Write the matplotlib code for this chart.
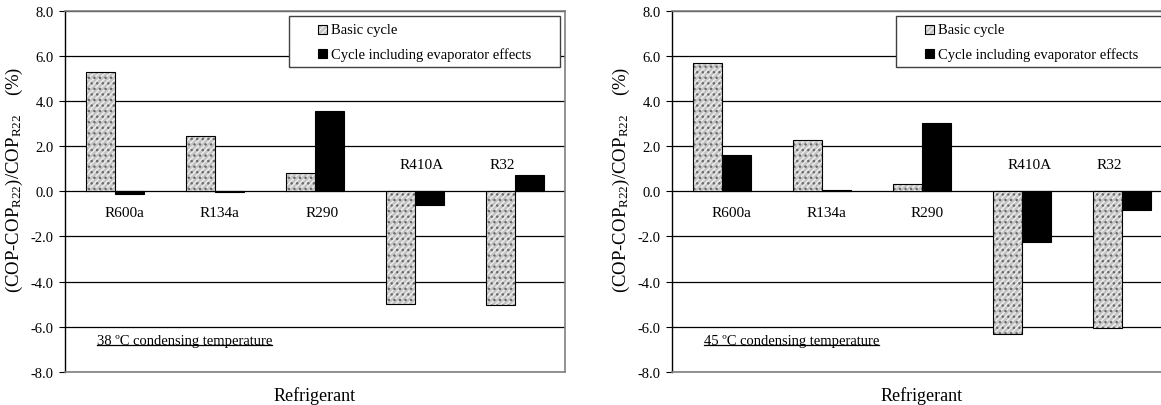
import matplotlib
matplotlib.use("Agg")
import matplotlib.pyplot as plt
from matplotlib.patches import Rectangle
from matplotlib.lines import Line2D
import numpy as np

## data
refrigerants = ["R600a", "R134a", "R290", "R410A", "R32"]
basic_38 = [5.27, 2.43, 0.80, -5.00, -5.05]
evap_38 = [-0.10, -0.05, 3.54, -0.63, 0.72]
basic_45 = [5.66, 2.27, 0.34, -6.34, -6.04]
evap_45 = [1.59, 0.05, 3.00, -2.24, -0.84]
yticks = [-8, -6, -4, -2, 0, 2, 4, 6, 8]
legend_labels = ["Basic cycle", "Cycle including evaporator effects"]
notes = ["38 \u00baC condensing temperature", "45 \u00baC condensing temperature"]

plt.rcParams["font.family"] = ["Liberation Serif", "DejaVu Serif"]
plt.rcParams["mathtext.fontset"] = "custom"
plt.rcParams["mathtext.rm"] = "Liberation Serif"
plt.rcParams["mathtext.it"] = "Liberation Serif:italic"
plt.rcParams["axes.unicode_minus"] = False
plt.rcParams["hatch.linewidth"] = 1.0

W, H = 1161, 406
fig = plt.figure(figsize=(W / 100, H / 100), dpi=100)

bw = 0.29
gray = "#c4c4c4"

## label x shifts per category
lab_dx = [[0.09, 0.04, 0.07, 0.07, -0.13], [0.09, 0.04, 0.055, 0.08, -0.13]]


def basic_bars(ax, x, v):
    ax.bar(x, v, bw, color=gray, edgecolor="#efefef", hatch="//////", linewidth=0, zorder=2)
    ax.bar(x, v, bw, color="none", edgecolor="#6a6a6a", hatch="...", linewidth=0, zorder=2)
    ax.bar(x, v, bw, fill=False, edgecolor="black", linewidth=0.8, zorder=3)


def panel(left_px, basic, evap, note, dx):
    ax = fig.add_axes([left_px / W, 1 - 373 / H, 500 / W, 361.5 / H])
    x = np.arange(len(refrigerants))
    basic_bars(ax, x - bw / 2, basic)
    ax.bar(x + bw / 2, evap, bw, color="black", edgecolor="black", linewidth=0.8, zorder=3)

    ax.set_xlim(-0.5, 4.5)
    ax.set_ylim(-8, 8)
    ax.set_xticks([])
    ax.set_yticks(yticks)
    ax.set_yticklabels(["%.1f" % t for t in yticks], fontsize=10.5)
    ax.tick_params(axis="y", direction="out", length=4, width=0.8, pad=4)
    ax.yaxis.grid(True, color="black", linewidth=0.9)
    ax.set_axisbelow(True)
    for s in ["top", "right", "bottom"]:
        ax.spines[s].set_color("#808080")
        ax.spines[s].set_linewidth(1.2)
    ax.spines["left"].set_linewidth(1.0)

    ax.set_ylabel("(COP-COP$_{\\mathrm{R22}}$)/COP$_{\\mathrm{R22}}$    (%)", fontsize=13.5)
    ax.yaxis.set_label_coords(-0.08, 0.534)
    ax.set_xlabel("Refrigerant", fontsize=13, labelpad=10)

    for i, name in enumerate(refrigerants):
        y = 1.2 if basic[i] < 0 else -0.93
        ax.text(i + dx[i], y, name, ha="center", va="center", fontsize=11)

    ## legend drawn as a box in axes fraction
    ax.add_patch(Rectangle((0.448, 0.844), 0.542, 0.141, transform=ax.transAxes,
                           facecolor="white", edgecolor="#404040", linewidth=1.0,
                           zorder=5, clip_on=False))
    for k, (lab, yy) in enumerate(zip(legend_labels, [0.947, 0.880])):
        if k == 0:
            ax.add_patch(Rectangle((0.506, yy - 0.0125), 0.018, 0.025, transform=ax.transAxes,
                                   facecolor=gray, edgecolor="#efefef", hatch="//////",
                                   linewidth=0, zorder=6, clip_on=False))
            ax.add_patch(Rectangle((0.506, yy - 0.0125), 0.018, 0.025, transform=ax.transAxes,
                                   fill=False, edgecolor="black", linewidth=0.8,
                                   zorder=6, clip_on=False))
        else:
            ax.add_patch(Rectangle((0.506, yy - 0.0125), 0.018, 0.025, transform=ax.transAxes,
                                   facecolor="black", edgecolor="black", linewidth=0.8,
                                   zorder=6, clip_on=False))
        ax.text(0.532, yy, lab, transform=ax.transAxes, ha="left", va="center",
                fontsize=10.5, zorder=7)

    t = ax.text(-0.18, -6.62, note, ha="left", va="center", fontsize=10.5)
    return ax, t


ax1, t1 = panel(65, basic_38, evap_38, notes[0], lab_dx[0])
ax2, t2 = panel(672, basic_45, evap_45, notes[1], lab_dx[1])

## underline the condensing temperature notes
fig.canvas.draw()
r = fig.canvas.get_renderer()
for t in [t1, t2]:
    bb = t.get_window_extent(r)
    yl = bb.y0 + 2
    fig.add_artist(Line2D([bb.x0 / W, bb.x1 / W], [yl / H, yl / H], color="black", linewidth=0.9))

fig.savefig("out.png", dpi=100)
